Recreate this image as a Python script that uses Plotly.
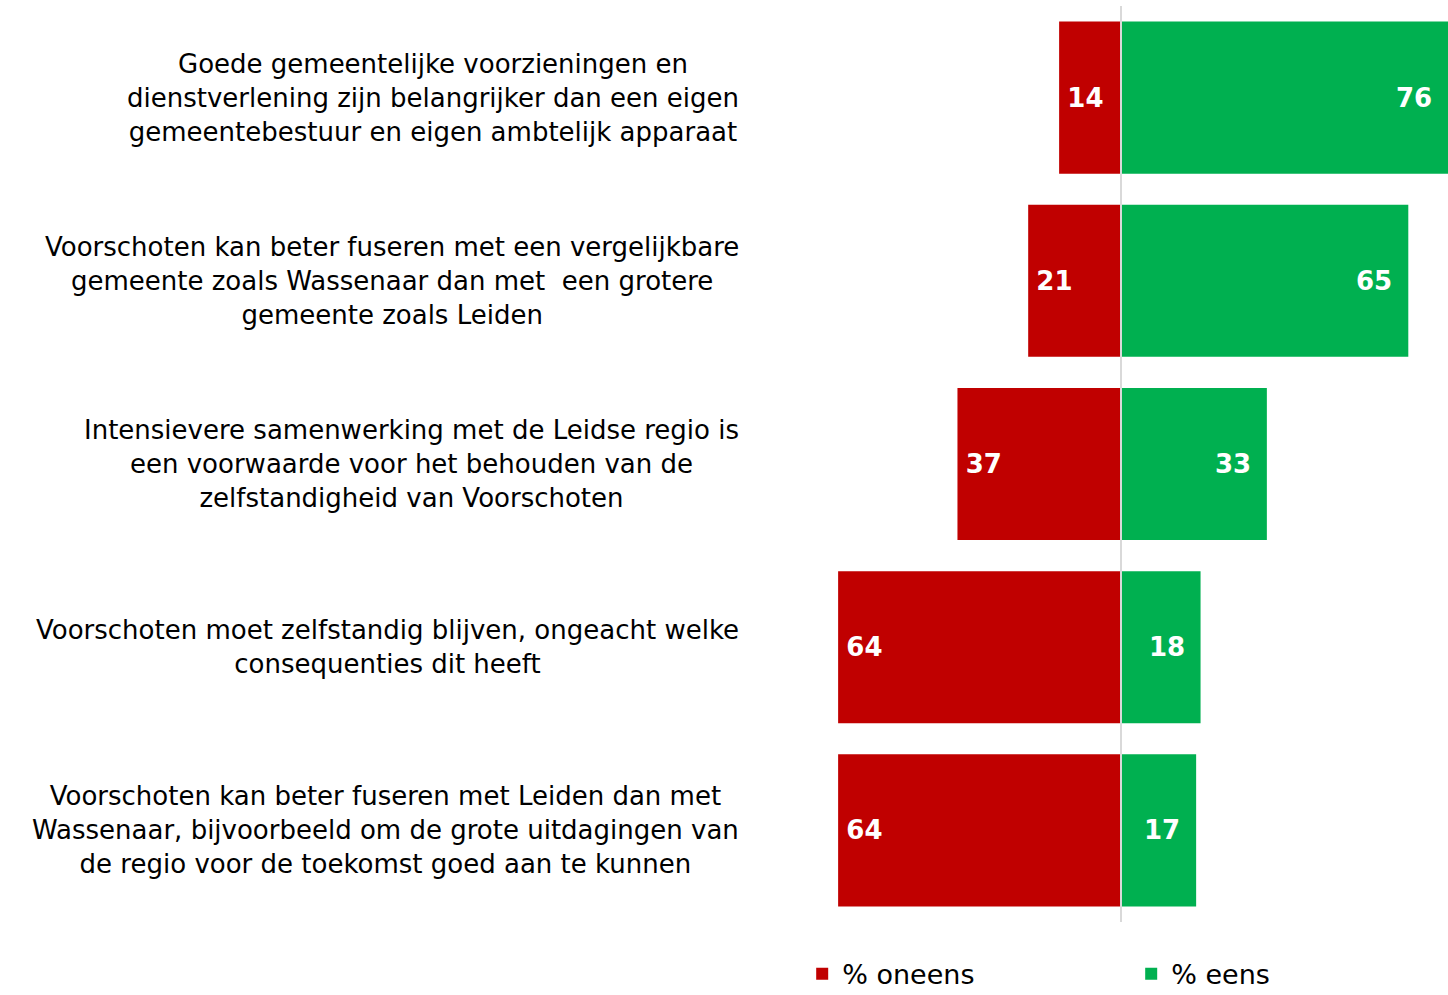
import plotly.graph_objects as go

categories = [
    "Goede gemeentelijke voorzieningen en<br>dienstverlening zijn belangrijker dan een eigen<br>gemeentebestuur en eigen ambtelijk apparaat",
    "Voorschoten kan beter fuseren met een vergelijkbare<br>gemeente zoals Wassenaar dan met  een grotere<br>gemeente zoals Leiden",
    "Intensievere samenwerking met de Leidse regio is<br>een voorwaarde voor het behouden van de<br>zelfstandigheid van Voorschoten",
    "Voorschoten moet zelfstandig blijven, ongeacht welke<br>consequenties dit heeft",
    "Voorschoten kan beter fuseren met Leiden dan met<br>Wassenaar, bijvoorbeeld om de grote uitdagingen van<br>de regio voor de toekomst goed aan te kunnen",
]
oneens = [14, 21, 37, 64, 64]
eens = [76, 65, 33, 18, 17]
series_names = ["% oneens", "% eens"]

RED = "#C00000"
GREEN = "#00B050"
FONT = "Verdana, DejaVu Sans, sans-serif"

W, H = 1448, 995
zero_px = 1121.0
px_per_unit = 4.42
x_min = -zero_px / px_per_unit
x_max = (W - zero_px) / px_per_unit

fig = go.Figure()
fig.add_trace(go.Bar(
    y=categories, x=[-v for v in oneens], orientation="h", name=series_names[0],
    marker=dict(color=RED, line=dict(width=0)),
    text=[str(v) for v in oneens], texttemplate="\u2009%{text}",
    textposition="inside", insidetextanchor="end", constraintext="none",
    textangle=0,
    textfont=dict(family=FONT, size=26, color="white", weight="bold"),
    hoverinfo="skip",
))
fig.add_trace(go.Bar(
    y=categories, x=eens, orientation="h", name=series_names[1],
    marker=dict(color=GREEN, line=dict(width=0)),
    hoverinfo="skip",
))

# value labels for the green bars (kept inside the visible area when a bar is cut off)
for c, v in zip(categories, eens):
    fig.add_annotation(
        x=min(v, x_max), xref="x", y=c, yref="y", text=str(v), showarrow=False,
        xanchor="right", yanchor="middle", xshift=-14,
        font=dict(family=FONT, size=26, color="white", weight="bold"),
    )

for c in categories:
    fig.add_annotation(
        x=741 / W, xref="paper", y=c, yref="y",
        text=c, showarrow=False, xanchor="right", yanchor="middle", align="center",
        font=dict(family=FONT, size=26, color="#000000"),
    )

fig.add_shape(type="line", xref="x", yref="paper", x0=0, x1=0, y0=0, y1=1,
              line=dict(color="#D9D9D9", width=2), layer="above")

fig.update_layout(
    width=W, height=H,
    margin=dict(l=0, r=0, t=6, b=73, autoexpand=False),
    barmode="relative", bargap=0.17,
    plot_bgcolor="white", paper_bgcolor="white",
    font=dict(family=FONT, size=26, color="#000000"),
    xaxis=dict(range=[x_min, x_max], visible=False, fixedrange=True),
    yaxis=dict(autorange="reversed", visible=False, fixedrange=True),
    showlegend=True,
    legend=dict(orientation="h", x=0.554, xanchor="left", y=-0.057, yanchor="middle",
                font=dict(family=FONT, size=27, color="#000000"),
                entrywidth=284, entrywidthmode="pixels", traceorder="normal",
                bgcolor="rgba(0,0,0,0)"),
)

fig.write_html(
    "out.html",
    config={"displayModeBar": False},
    post_script="document.body.style.margin='0';document.body.style.overflow='hidden';",
)
